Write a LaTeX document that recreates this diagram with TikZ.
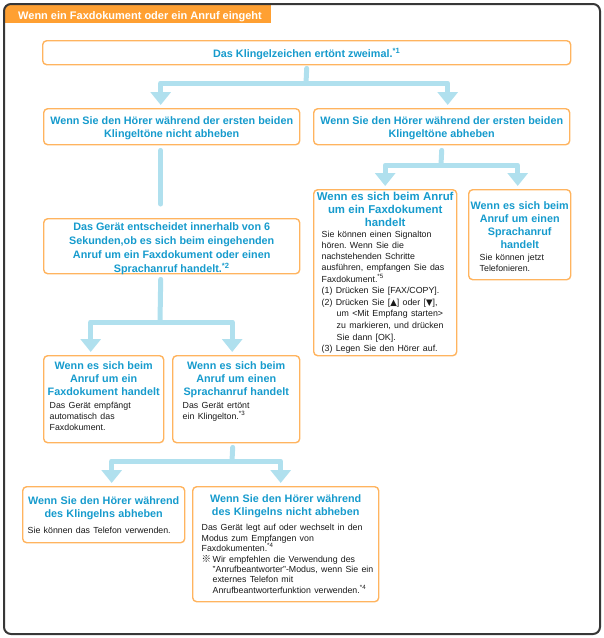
\documentclass[tikz,border=0pt]{standalone}
\usepackage{fontspec}
\setmainfont{Liberation Sans}
\newfontfamily\symf{DejaVu Sans}
\newfontfamily\cjkf{Noto Sans CJK JP}
\usetikzlibrary{arrows.meta}
\definecolor{headblue}{RGB}{22,155,205}
\definecolor{boxorange}{RGB}{255,180,95}
\definecolor{titleorange}{RGB}{255,160,50}
\definecolor{connblue}{RGB}{176,224,238}
\definecolor{framecol}{RGB}{55,55,55}
\definecolor{bodytext}{RGB}{25,25,25}
\newcommand\hdf{\fontsize{10.8}{13}\selectfont\bfseries}
\newcommand\bdf{\fontsize{8.8}{11.2}\selectfont\mdseries\color{bodytext}\frenchspacing}
\newcommand\tri[1]{{\symf\fontsize{8.5}{8}\selectfont #1}}
\tikzset{
  box/.style={draw=boxorange, line width=1.4pt, rounded corners=4pt, fill=white, inner sep=0pt, anchor=north west},
  ctext/.style={inner sep=0pt, font=\hdf, text=headblue, align=center},
  txt/.style={anchor=north, inner sep=0pt, text=headblue},
  cline/.style={draw=connblue, line width=5pt, line cap=round, line join=round},
  carrow/.style={cline, -{Triangle[width=20pt,length=13pt]}},
}
\begin{document}
\begin{tikzpicture}[x=1pt,y=-1pt]
\useasboundingbox (0,0) rectangle (604,638);
% frame and title tab
\begin{scope}
\clip[rounded corners=7pt] (4,4) rectangle (600,634);
\fill[titleorange] (4,4) rectangle (271,23);
\end{scope}
\draw[framecol, line width=2pt, rounded corners=7pt] (4,4) rectangle (600,634);
\node[anchor=base west, inner sep=0pt, font=\fontsize{11}{13}\selectfont\bfseries, text=white] (title) at (18,19) {Wenn ein Faxdokument oder ein Anruf eingeht};

% boxes
\node[box, minimum width=528pt, minimum height=24pt] (b1) at (42,40) {};
\node[box, minimum width=256pt, minimum height=36pt] (b2) at (43,108) {};
\node[box, minimum width=256pt, minimum height=36pt] (b3) at (313,108) {};
\node[box, minimum width=256pt, minimum height=55pt] (b4) at (43,218) {};
\node[box, minimum width=143pt, minimum height=166pt] (b5) at (313,189) {};
\node[box, minimum width=102pt, minimum height=90pt] (b6) at (468,189) {};
\node[box, minimum width=120pt, minimum height=87pt] (b7) at (43,355) {};
\node[box, minimum width=127pt, minimum height=87pt] (b8) at (172,355) {};
\node[box, minimum width=162pt, minimum height=56pt] (b9) at (22,486) {};
\node[box, minimum width=186pt, minimum height=115pt] (b10) at (192,486) {};

% texts inside boxes
\node[ctext] (t1) at ([yshift=-1pt]b1.center) {Das Klingelzeichen ertönt zweimal.\textsuperscript{*1}};
\node[ctext] (t2) at ([yshift=-2pt]b2.center) {Wenn Sie den Hörer während der ersten beiden\\Klingeltöne nicht abheben};
\node[ctext] (t3) at ([yshift=-2pt]b3.center) {Wenn Sie den Hörer während der ersten beiden\\Klingeltöne abheben};
\node[ctext, font=\fontsize{10.8}{14}\selectfont\bfseries] (t4) at ([yshift=-2.5pt]b4.center) {Das Gerät entscheidet innerhalb von 6\\Sekunden,ob es sich beim eingehenden\\Anruf um ein Faxdokument oder einen\\Sprachanruf handelt.\textsuperscript{*2}};

\node[txt, text width=143pt] (t5) at ([yshift=-3.5pt]b5.north) {\fontsize{11.4}{13}\selectfont\bfseries\centering Wenn es sich beim Anruf\\um ein Faxdokument\\handelt\par
\vspace{-0.8pt}\bdf\raggedright\leftskip=8pt
Sie können einen Signalton\\
hören. Wenn Sie die\\
nachstehenden Schritte\\
ausführen, empfangen Sie das\\
Faxdokument.\textsuperscript{*5}\par
\fontsize{8.8}{11.6}\selectfont
(1) Drücken Sie [FAX/COPY].\\
(2) Drücken Sie [\tri{▲}] oder [\tri{▼}],\\
\hspace*{15pt}um <Mit Empfang starten>\\
\hspace*{15pt}zu markieren, und drücken\\
\hspace*{15pt}Sie dann [OK].\\
(3) Legen Sie den Hörer auf.\par};

\node[txt, text width=102pt] (t6) at ([yshift=-12pt]b6.north) {\hdf\centering Wenn es sich beim\\Anruf um einen\\Sprachanruf\\handelt\par
\vspace{1.3pt}\bdf\raggedright\leftskip=11pt
Sie können jetzt\\Telefonieren.\par};

\node[txt, text width=120pt] (t7) at ([yshift=-6pt]b7.north) {\hdf\centering Wenn es sich beim\\Anruf um ein\\Faxdokument handelt\par
\vspace{1.9pt}\bdf\raggedright\leftskip=6pt
Das Gerät empfängt\\automatisch das\\Faxdokument.\par};

\node[txt, text width=127pt] (t8) at ([yshift=-6pt]b8.north) {\hdf\centering Wenn es sich beim\\Anruf um einen\\Sprachanruf handelt\par
\vspace{1.9pt}\bdf\raggedright\leftskip=10pt
Das Gerät ertönt\\ein Klingelton.\textsuperscript{*3}\par};

\node[txt, text width=162pt] (t9) at ([yshift=-10pt]b9.north) {\hdf\centering Wenn Sie den Hörer während\\des Klingelns abheben\par
\vspace{4.9pt}\bdf\raggedright\leftskip=5pt
Sie können das Telefon verwenden.\par};

\node[txt, text width=186pt] (t10) at ([yshift=-8pt]b10.north) {\hdf\centering Wenn Sie den Hörer während\\des Klingelns nicht abheben\par
\vspace{5.4pt}\bdf\fontsize{8.8}{10.4}\selectfont\raggedright\leftskip=9pt
Das Gerät legt auf oder wechselt in den\\
Modus zum Empfangen von\\
Faxdokumenten.\textsuperscript{*4}\\
\makebox[11pt][l]{\cjkf\fontsize{9.5}{8}\selectfont ※}Wir empfehlen die Verwendung des\\
\hspace*{11pt}"Anrufbeantworter"-Modus, wenn Sie ein\\
\hspace*{11pt}externes Telefon mit\\
\hspace*{11pt}Anrufbeantworterfunktion verwenden.\textsuperscript{*4}\par};

% connectors
\coordinate (j1) at (306,83);
\draw[cline] ([yshift=-3pt]b1.south) -- (j1);
\draw[carrow] (j1) -| ([xshift=-11pt,yshift=3pt]b2.north);
\draw[carrow] (j1) -| ([xshift=6pt,yshift=3pt]b3.north);

\draw[cline] ([xshift=-11pt,yshift=-5pt]b2.south) -- ([xshift=-11pt,yshift=14pt]b4.north);

\coordinate (j2) at (160,322);
\draw[cline] ([xshift=-11pt,yshift=-5pt]b4.south) -- (j2);
\draw[carrow] (j2) -| ([xshift=-13pt,yshift=3pt]b7.north);
\draw[carrow] (j2) -| ([xshift=-4pt,yshift=3pt]b8.north);

\coordinate (j3) at (441,165);
\draw[cline] ([yshift=-5pt]b3.south) -- (j3);
\draw[carrow] (j3) -| ([yshift=3pt]b5.north);
\draw[carrow] (j3) -| ([xshift=-2pt,yshift=3pt]b6.north);

\coordinate (j4) at (232,461);
\draw[cline] ([xshift=-3.5pt,yshift=-4pt]b8.south) -- (j4);
\draw[carrow] (j4) -| ([xshift=8pt,yshift=3pt]b9.north);
\draw[carrow] (j4) -| ([xshift=-5pt,yshift=3pt]b10.north);
\end{tikzpicture}
\end{document}
